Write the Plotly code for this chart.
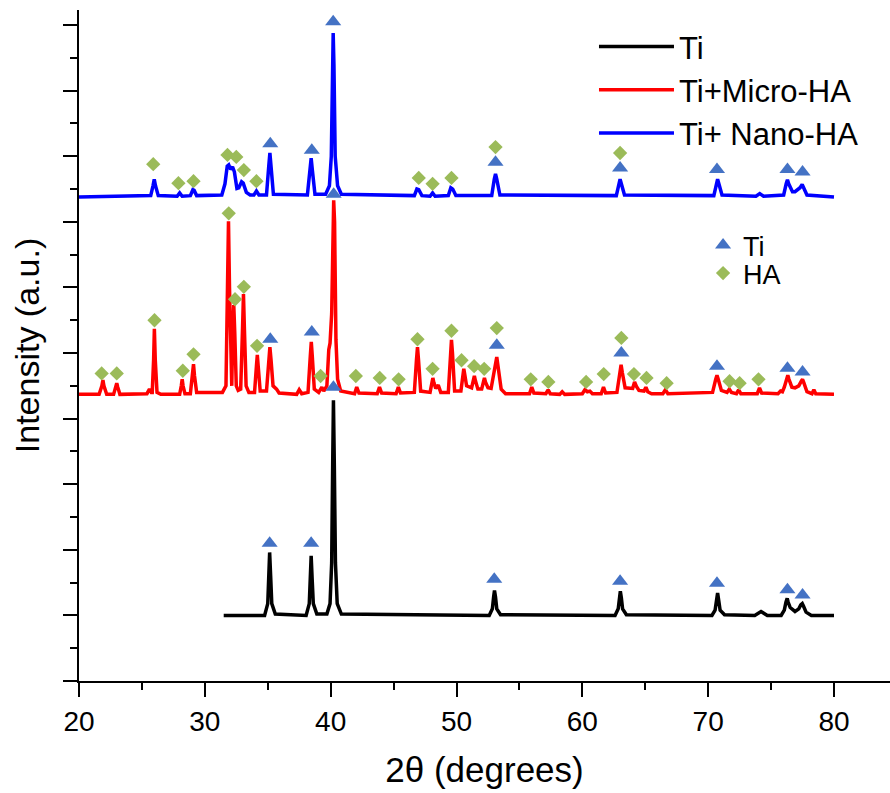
import plotly.graph_objects as go

# ---- XRD patterns (2-theta in degrees, intensity in a.u., curves stacked with offsets) ----
ti_2theta = [31.5, 34.75, 35.0, 35.08, 35.15, 35.23, 35.32, 35.6, 38.05, 38.3, 38.38, 38.45, 38.53, 38.62, 38.9,
             39.7, 39.95, 40.08, 40.16, 40.22, 40.29, 40.38, 40.52, 40.85, 52.6, 52.85, 52.95, 53.02, 53.1, 53.2, 53.5,
             62.6, 62.85, 62.95, 63.02, 63.1, 63.2, 63.5, 70.3, 70.55, 70.67, 70.75, 70.83, 70.95, 71.3,
             73.7, 74.2, 74.7, 75.8, 76.05, 76.18, 76.28, 76.36, 76.52, 76.9, 77.2, 77.36, 77.48, 77.58, 77.78, 78.2, 80.0]
ti_intensity = [100, 100, 118, 160, 196, 160, 118, 102, 100, 118, 155, 191, 155, 118, 102,
                102, 118, 180, 330, 428, 330, 180, 118, 102, 100, 110, 128, 138, 128, 110, 101,
                100, 110, 127, 137, 127, 110, 101, 100, 108, 124, 134, 124, 108, 101,
                100, 106, 100, 100, 108, 120, 126, 120, 112, 106, 110, 116, 118, 114, 105, 100, 100]

micro_2theta = [20.0, 21.6, 21.82, 21.9, 21.98, 22.2, 22.75, 22.92, 23.0, 23.08, 23.25, 25.4, 25.6, 25.75,
                25.82, 25.93, 25.99, 26.06, 26.2, 26.5, 28.0, 28.13, 28.2, 28.27, 28.42, 28.85, 29.02, 29.1, 29.18, 29.35,
                31.4, 31.68, 31.8, 31.88, 31.96, 32.06, 32.14, 32.22, 32.3, 32.38, 32.5, 32.65,
                32.85, 33.0, 33.07, 33.14, 33.28, 33.5, 33.95, 34.1, 34.17, 34.24, 34.4,
                34.9, 35.08, 35.17, 35.26, 35.42, 35.7, 35.9, 37.3, 37.5, 37.7,
                38.2, 38.38, 38.46, 38.54, 38.7, 39.05, 39.3, 39.45,
                39.7, 39.85, 39.95, 40.08, 40.17, 40.24, 40.31, 40.42, 40.55, 40.8,
                41.9, 42.07, 42.25, 43.7, 43.88, 44.05, 45.2, 45.38, 45.55,
                46.65, 46.82, 46.9, 46.98, 47.15, 47.9, 48.05, 48.12, 48.2, 48.35, 48.55, 48.75,
                49.35, 49.52, 49.6, 49.68, 49.85, 50.35, 50.52, 50.58, 50.65, 50.8,
                51.2, 51.35, 51.42, 51.5, 51.7, 52.0, 52.15, 52.22, 52.3, 52.5,
                52.75, 53.05, 53.2, 53.3, 53.55, 53.9, 55.8, 55.98, 56.15, 57.1, 57.28, 57.45, 58.2, 58.4, 58.6,
                60.0, 60.2, 60.4, 60.6, 60.8, 61.5, 61.68, 61.85,
                62.75, 62.98, 63.08, 63.18, 63.4, 64.0, 64.15, 64.3, 64.5, 64.9, 65.05, 65.2, 65.5,
                66.4, 66.6, 66.8, 70.35, 70.6, 70.7, 70.8, 71.05, 71.5, 71.68, 71.85, 72.25, 72.42, 72.6,
                73.9, 74.08, 74.25, 75.55, 75.75, 75.9, 76.05, 76.25, 76.33, 76.42, 76.65, 76.9,
                77.2, 77.42, 77.5, 77.6, 77.85, 78.25, 78.4, 78.55, 80.0]
micro_intensity = [437, 437, 450, 459, 450, 437, 437, 448, 454, 448, 437, 438, 445, 440,
                   440, 490, 537, 490, 440, 437, 437, 450, 460, 450, 438, 438, 465, 483, 465, 440,
                   440, 450, 600, 701, 600, 470, 450, 530, 573, 530, 450, 443,
                   445, 540, 590, 540, 450, 440, 440, 480, 497, 480, 442,
                   442, 490, 509, 490, 450, 445, 439, 437, 444, 438,
                   440, 495, 517, 495, 445, 440, 448, 442,
                   450, 505, 515, 560, 700, 733, 700, 520, 460, 442,
                   438, 448, 439, 438, 448, 439, 438, 448, 439,
                   440, 490, 509, 490, 442, 440, 455, 462, 455, 446, 451, 440,
                   440, 500, 520, 500, 442, 442, 468, 476, 468, 450,
                   447, 463, 465, 458, 445, 445, 458, 462, 456, 447,
                   446, 480, 494, 480, 445, 438, 438, 448, 439, 438, 444, 438, 437, 441, 437,
                   438, 444, 441, 442, 438, 438, 448, 439,
                   440, 470, 482, 470, 447, 446, 456, 449, 443, 442, 448, 441, 438,
                   438, 444, 438, 440, 460, 466, 460, 443, 440, 445, 440, 438, 444, 438,
                   438, 447, 439, 438, 442, 441, 448, 463, 466, 460, 448, 447,
                   450, 458, 460, 455, 441, 438, 444, 438, 437]

nano_2theta = [20.0, 25.7, 25.88, 25.98, 26.08, 26.3, 27.8, 28.0, 28.2, 28.85, 29.05, 29.15, 29.35,
               31.35, 31.6, 31.78, 31.9, 32.05, 32.2, 32.35, 32.55, 32.7, 32.92, 33.05, 33.3, 33.6, 33.9, 34.1, 34.3,
               34.9, 35.08, 35.17, 35.26, 35.45, 38.15, 38.35, 38.45, 38.55, 38.75,
               39.6, 39.9, 40.05, 40.14, 40.2, 40.26, 40.36, 40.55, 40.85,
               46.65, 46.85, 47.0, 47.25, 47.9, 48.1, 48.3, 49.35, 49.55, 49.7, 49.95,
               52.8, 53.0, 53.1, 53.2, 53.45, 62.7, 62.9, 63.0, 63.1, 63.35,
               70.45, 70.65, 70.75, 70.85, 71.1, 73.8, 74.1, 74.4,
               76.0, 76.2, 76.3, 76.4, 76.7, 76.9, 77.3, 77.47, 77.6, 77.85, 80.0]
nano_intensity = [738, 740, 755, 765, 755, 740, 739, 744, 739, 740, 749, 748, 740,
                  741, 758, 785, 787, 780, 784, 776, 751, 752, 761, 759, 745, 741, 741, 747, 741,
                  741, 785, 805, 785, 742, 741, 778, 797, 778, 742,
                  742, 755, 800, 940, 988, 940, 800, 755, 742,
                  740, 750, 749, 740, 739, 744, 739, 740, 752, 750, 740,
                  740, 765, 773, 765, 741, 740, 758, 765, 758, 741,
                  740, 758, 765, 758, 741, 739, 743, 739,
                  741, 758, 764, 758, 746, 746, 752, 757, 752, 741, 738]

# ---- phase markers above the reflections ----
ti_mark_2theta = [35.15, 38.45, 40.22, 53.0, 63.0, 70.7, 76.3, 77.5,
                  35.2, 38.5, 40.24, 53.2, 63.1, 70.7, 76.3, 77.5,
                  35.2, 38.5, 40.2, 53.1, 63.0, 70.7, 76.3, 77.5]
ti_mark_y = [210, 210, 448, 155, 152, 149, 139, 131,
             521, 532, 742, 512, 500, 480, 477, 471,
             819, 809, 1005, 791, 782, 780, 780, 776]

ha_mark_2theta = [21.8, 23.0, 26.0, 28.25, 29.1, 31.9, 32.4, 33.1, 34.15, 39.2, 42.0, 43.9, 45.4, 46.9,
                  48.1, 49.6, 50.4, 51.4, 52.2, 53.2, 55.9, 57.3, 60.3, 61.7, 63.1, 64.1, 65.1, 66.7,
                  71.7, 72.5, 74.0,
                  25.9, 27.9, 29.1, 31.8, 32.5, 33.1, 34.1, 47.0, 48.1, 49.6, 53.1, 63.0]
ha_mark_y = [469, 469, 550, 473, 498, 713, 582, 601, 511, 465, 465, 462, 460, 521,
             476, 534, 489, 480, 476, 538, 460, 456, 456, 468, 523, 468, 462, 454,
             457, 454, 460,
             788, 759, 762, 802, 799, 779, 762, 767, 758, 767, 814, 805]

FONT = "Arial, Liberation Sans, sans-serif"
LINE_W = 3.5

fig = go.Figure()
fig.add_trace(go.Scatter(x=ti_2theta, y=ti_intensity, mode="lines", name="Ti",
                         line=dict(color="#000000", width=LINE_W), legend="legend"))
fig.add_trace(go.Scatter(x=micro_2theta, y=micro_intensity, mode="lines", name="Ti+Micro-HA",
                         line=dict(color="#FF0000", width=LINE_W), legend="legend"))
fig.add_trace(go.Scatter(x=nano_2theta, y=nano_intensity, mode="lines", name="Ti+ Nano-HA",
                         line=dict(color="#0000FF", width=LINE_W), legend="legend"))
fig.add_trace(go.Scatter(x=ti_mark_2theta, y=ti_mark_y, mode="markers", name="Ti",
                         marker=dict(symbol="triangle-up", size=14, color="#4472C4"),
                         legend="legend2"))
fig.add_trace(go.Scatter(x=ha_mark_2theta, y=ha_mark_y, mode="markers", name="HA",
                         marker=dict(symbol="diamond", size=11, color="#9BBB59"),
                         legend="legend3"))

marker_legend = dict(x=0.7695, xanchor="left", yanchor="top",
                     font=dict(size=27, family=FONT), itemwidth=30,
                     bgcolor="rgba(0,0,0,0)")

fig.update_layout(
    width=890, height=793,
    margin=dict(l=79, r=0, t=10, b=112),
    paper_bgcolor="white", plot_bgcolor="white",
    font=dict(family=FONT, color="black"),
    legend=dict(x=0.635, y=0.9854, xanchor="left", yanchor="top",
                font=dict(size=31, family=FONT), itemwidth=75,
                bgcolor="rgba(0,0,0,0)", tracegroupgap=0),
    legend2=dict(marker_legend, y=0.6855),
    legend3=dict(marker_legend, y=0.6438),
    xaxis=dict(range=[20, 84.45], showgrid=False, zeroline=False,
               showline=True, linecolor="black", linewidth=2,
               ticks="outside", ticklen=14, tickwidth=2, tickcolor="black",
               tick0=20, dtick=10,
               minor=dict(ticks="outside", ticklen=7, tickwidth=2, tickcolor="black", dtick=5),
               tickfont=dict(size=28, family=FONT),
               title=dict(text="2θ (degrees)", font=dict(size=35, family=FONT), standoff=22)),
    yaxis=dict(range=[0, 1023], showgrid=False, zeroline=False,
               showline=True, linecolor="black", linewidth=2,
               ticks="outside", ticklen=14, tickwidth=2, tickcolor="black",
               tick0=0, dtick=100, showticklabels=False,
               minor=dict(ticks="outside", ticklen=7, tickwidth=2, tickcolor="black", dtick=50),
               title=dict(text="Intensity (a.u.)", font=dict(size=34, family=FONT), standoff=13)),
)

fig.write_html("out.html")
